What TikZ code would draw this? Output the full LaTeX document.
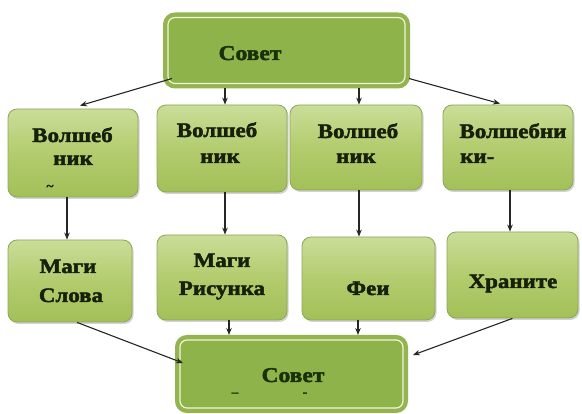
\documentclass[tikz,border=0pt]{standalone}
\usepackage{fontspec}
\setmainfont{Liberation Serif}[FakeStretch=1.12, BoldFeatures={FakeBold=2}]
\usetikzlibrary{arrows.meta,shadows}
\definecolor{gtop}{HTML}{CADD98}
\definecolor{gmid}{HTML}{B3CC6E}
\definecolor{gbot}{HTML}{A2C058}
\definecolor{gedge}{HTML}{8FA65A}
\definecolor{bigfill}{HTML}{8FB34B}
\definecolor{bigedge}{HTML}{93B450}
\definecolor{bigline}{HTML}{F0F6D4}
\definecolor{txt}{HTML}{16200A}
\definecolor{txtb}{HTML}{1A3008}
\tikzset{
  smallbox/.style={rounded corners=9pt, top color=gtop, bottom color=gbot, middle color=gmid,
    draw=gedge, line width=0.8pt, inner sep=0pt,
    drop shadow={shadow xshift=1.5pt, shadow yshift=-2pt, opacity=0.35}},
  bigbox/.style={rounded corners=10pt, fill=bigfill, draw=bigedge, line width=4pt, inner sep=0pt},
  innerline/.style={rounded corners=7pt, draw=bigline, line width=1.2pt},
  lbl/.style={font=\fontsize{20.5}{22}\selectfont\bfseries, text=txt, anchor=base, inner sep=0pt},
  biglbl/.style={font=\fontsize{21}{24}\selectfont\bfseries, text=txtb, anchor=base, inner sep=0pt},
  smallmark/.style={font=\fontsize{12}{14}\selectfont\bfseries, text=txt, anchor=base, inner sep=0pt},
  arr/.style={-{Stealth[length=7pt,width=5.5pt]}, line width=1.1pt, black!85},
}
\begin{document}
\begin{tikzpicture}[x=1pt,y=-1pt]
\useasboundingbox[fill=white] (0,0) rectangle (582,414);
% big boxes
\node[bigbox, minimum width=243pt, minimum height=72pt] (top) at (286.5,50.5) {};
\draw[innerline] ([shift={(5pt,5pt)}]top.south west) rectangle ([shift={(-5pt,-5pt)}]top.north east);
\node[bigbox, minimum width=229pt, minimum height=74pt] (bot) at (291.5,374) {};
\draw[innerline] ([shift={(5pt,5pt)}]bot.south west) rectangle ([shift={(-5pt,-5pt)}]bot.north east);
% row 1
\node[smallbox, minimum width=130pt, minimum height=88pt] (b1) at (73,153) {};
\node[smallbox, minimum width=130pt, minimum height=87pt] (b2) at (222,148.5) {};
\node[smallbox, minimum width=132pt, minimum height=85pt] (b3) at (356,147.5) {};
\node[smallbox, minimum width=130pt, minimum height=85pt] (b4) at (508,147.5) {};
% row 2
\node[smallbox, minimum width=124pt, minimum height=82pt] (b5) at (70,281) {};
\node[smallbox, minimum width=130pt, minimum height=85pt] (b6) at (222,277.5) {};
\node[smallbox, minimum width=133pt, minimum height=83pt] (b7) at (368.5,278.5) {};
\node[smallbox, minimum width=131pt, minimum height=86pt] (b8) at (512.5,275) {};
% labels
\node[biglbl] (ttop) at (250,60) {Совет};
\node[biglbl] (tbot) at (293,382) {Совет};
\node[smallmark] (m1) at (235,396) {–};
\node[smallmark] (m2) at (305,396) {-};
\node[lbl] (t1a) at (72.5,142) {Волшеб};
\node[lbl] (t1b) at (73,165) {ник};
\node[smallmark] (t1c) at (50,190) {\textasciitilde};
\node[lbl] (t2a) at (217,137) {Волшеб};
\node[lbl] (t2b) at (220,163) {ник};
\node[lbl] (t3a) at (358,138) {Волшеб};
\node[lbl] (t3b) at (356,163) {ник};
\node[lbl] (t4a) at (513,138) {Волшебни};
\node[lbl, anchor=base west] (t4b) at (460,163) {ки-};
\node[lbl] (t5a) at (68,273) {Маги};
\node[lbl] (t5b) at (71,302) {Слова};
\node[lbl] (t6a) at (222,267) {Маги};
\node[lbl] (t6b) at (222,295) {Рисунка};
\node[lbl] (t7a) at (368,295) {Феи};
\node[lbl] (t8a) at (513,288) {Храните};
% arrows from top
\draw[arr] ([shift={(9pt,10pt)}]top.south west) -- ([xshift=7pt,yshift=3pt]b1.north);
\draw[arr] ([xshift=3pt]b2.north |- top.south) -- ([xshift=3pt]b2.north);
\draw[arr] ([xshift=3pt]b3.north |- top.south) -- ([xshift=3pt]b3.north);
\draw[arr] ([shift={(-1pt,10pt)}]top.south east) -- ([xshift=-8pt,yshift=1pt]b4.north);
% row 1 to row 2
\draw[arr] ([xshift=-3pt]b5.north |- b1.south) -- ([xshift=-3pt]b5.north);
\draw[arr] ([xshift=3pt]b6.north |- b2.south) -- ([xshift=3pt]b6.north);
\draw[arr] ([xshift=-9.5pt]b7.north |- b3.south) -- ([xshift=-9.5pt]b7.north);
\draw[arr] ([xshift=-2.5pt]b8.north |- b4.south) -- ([xshift=-2.5pt]b8.north);
% row 2 to bottom
\draw[arr] ([xshift=7pt]b5.south) -- ([shift={(8pt,11pt)}]bot.west);
\draw[arr] ([xshift=7pt]b6.south) -- ([xshift=7pt]b6.south |- bot.north);
\draw[arr] ([xshift=-10.5pt]b7.south) -- ([xshift=-10.5pt]b7.south |- bot.north);
\draw[arr] ([xshift=0pt]b8.south) -- ([shift={(5pt,19pt)}]bot.east);
\end{tikzpicture}
\end{document}
